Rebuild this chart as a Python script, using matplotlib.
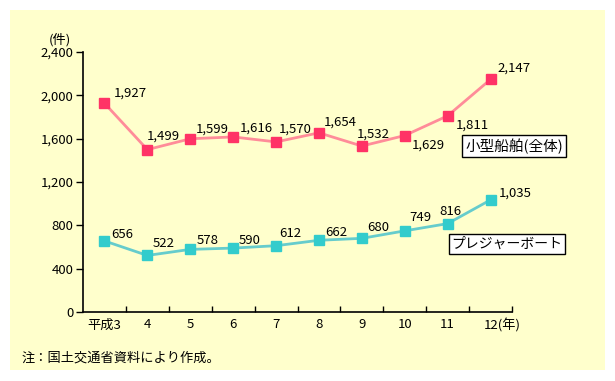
import matplotlib
matplotlib.use("Agg")
import matplotlib.pyplot as plt
from matplotlib.patches import Rectangle

plt.rcParams['font.family'] = ['Noto Sans CJK JP', 'DejaVu Sans']

years = ['平成3', '4', '5', '6', '7', '8', '9', '10', '11', '12']
small_boats = [1927, 1499, 1599, 1616, 1570, 1654, 1532, 1629, 1811, 2147]
pleasure_boats = [656, 522, 578, 590, 612, 662, 680, 749, 816, 1035]
yticks = [0, 400, 800, 1200, 1600, 2000, 2400]

# label offsets in pixels (dx, dy) relative to marker
small_off = [(9, 10), (-1, 13), (6, 10), (7, 9), (3, 13), (5, 11), (-5, 12), (7, -10), (8, -9), (7, 11)]
pleas_off = [(7, 6), (5, 12), (6, 9), (6, 8), (3, 12), (6, 8), (5, 11), (5, 13), (-8, 12), (8, 7)]

W, H = 615, 381
fig = plt.figure(figsize=(W / 100, H / 100), dpi=100)
fig.patch.set_facecolor('white')
fig.patches.append(Rectangle((10 / W, 11 / H), 595 / W, 360 / H, transform=fig.transFigure,
                             facecolor='#FFFFCC', edgecolor='none', zorder=-10))

ax = fig.add_axes([83 / W, 1 - 312 / H, (512 - 83) / W, (312 - 52) / H])
ax.set_facecolor('none')

x = list(range(len(years)))
ax.plot(x, small_boats, color='#FF8C99', lw=2, zorder=2)
ax.plot(x, small_boats, ls='none', marker='s', ms=7.5, color='#FF3366', zorder=3)
ax.plot(x, pleasure_boats, color='#66CCCC', lw=2, zorder=2)
ax.plot(x, pleasure_boats, ls='none', marker='s', ms=7.5, color='#33CCCC', zorder=3)

fs = 9.5
for xi, v, (dx, dy) in zip(x, small_boats, small_off):
    ax.annotate(f'{v:,}', (xi, v), xytext=(dx, dy), textcoords='offset pixels',
                ha='left', va='center', fontsize=fs)
for xi, v, (dx, dy) in zip(x, pleasure_boats, pleas_off):
    ax.annotate(f'{v:,}', (xi, v), xytext=(dx, dy), textcoords='offset pixels',
                ha='left', va='center', fontsize=fs)

ax.set_xlim(-0.5, len(years) - 0.5)
ax.set_ylim(0, 2400)
ax.set_yticks(yticks)
ax.set_yticklabels([f'{t:,}' for t in yticks], fontsize=fs)
ax.tick_params(axis='y', direction='out', length=5, width=1, pad=2)

ax.set_xticks([i + 0.5 for i in range(len(years))])
ax.set_xticklabels([])
ax.tick_params(axis='x', direction='in', length=4, width=1)
xtr = ax.get_xaxis_transform()
for xi, lab in zip(x, years):
    if xi == len(years) - 1:
        ax.annotate(lab + '(年)', (xi, 0), xycoords=xtr, xytext=(-7, -13), textcoords='offset pixels',
                    ha='left', va='center', fontsize=fs)
    else:
        ax.annotate(lab, (xi, 0), xycoords=xtr, xytext=(0, -13), textcoords='offset pixels',
                    ha='center', va='center', fontsize=fs)

for s in ['top', 'right']:
    ax.spines[s].set_visible(False)
for s in ['left', 'bottom']:
    ax.spines[s].set_linewidth(1.2)

fig.text(60 / W, 1 - 40 / H, '(件)', ha='center', va='center', fontsize=fs)
fig.text(22 / W, 1 - 358 / H, '注：国土交通省資料により作成。', ha='left', va='center', fontsize=fs)

box = dict(boxstyle='square,pad=0.2', facecolor='white', edgecolor='black', lw=1)
fig.text(514 / W, 1 - 146 / H, '小型船舶(全体)', ha='center', va='center', fontsize=10.5, bbox=box)
fig.text(507 / W, 1 - 244 / H, 'プレジャーボート', ha='center', va='center', fontsize=10, bbox=box)

fig.savefig('out.png', dpi=100)
